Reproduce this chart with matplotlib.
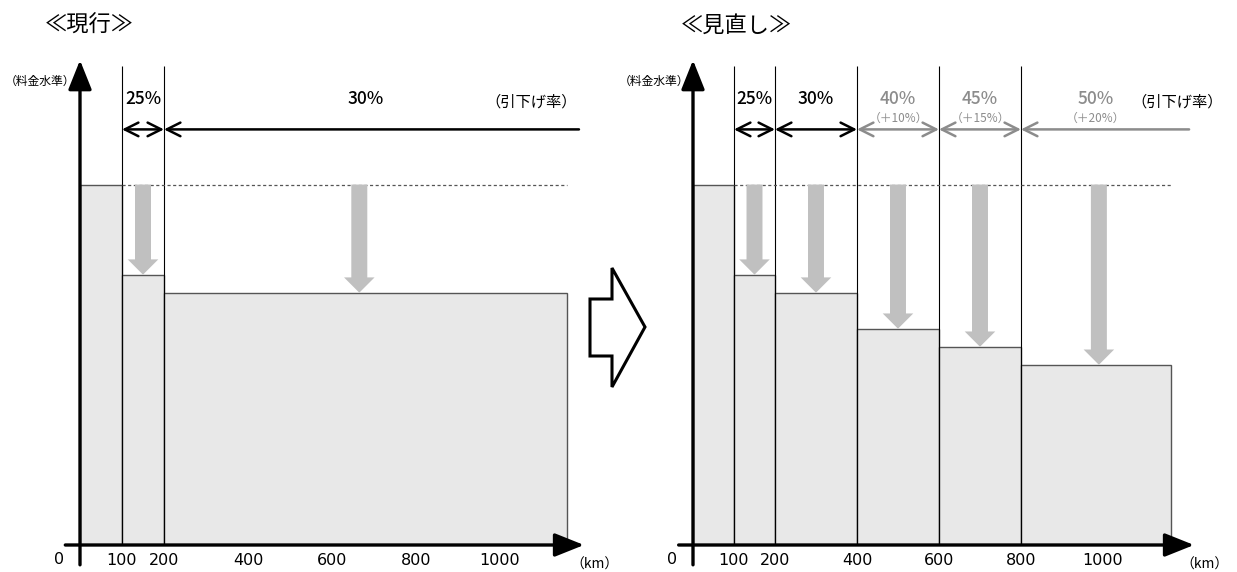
import numpy as np
import matplotlib
matplotlib.use("Agg")
import matplotlib.pyplot as plt
from matplotlib.patches import Polygon

plt.rcParams['font.family'] = ['Noto Sans CJK JP', 'DejaVu Sans']

# ---- data ----
cur_edges = [0, 100, 200, 1160]
cur_rates = [0, 25, 30]
cur_drop_x = [150, 665]

new_edges = [0, 100, 200, 400, 600, 800, 1165]
new_rates = [0, 25, 30, 40, 45, 50]
new_extra = ['', '', '', '（＋10%）', '（＋15%）', '（＋20%）']
new_drop_x = [150, 300, 500, 700, 990]

tick_km = [100, 200, 400, 600, 800, 1000]
base_level = 100

W, H = 1237, 572
fig = plt.figure(figsize=(W / 100, H / 100), dpi=100)

FILL = '#e8e8e8'
EDGE = '#555555'
GRAY = '#8c8c8c'
DROP = '#c0c0c0'


def px_axes(x0, x1, y0, y1):
    # axes placed by pixel box (top-left origin)
    return fig.add_axes([x0 / W, 1 - y1 / H, (x1 - x0) / W, (y1 - y0) / H])


def panel(ax, edges, rates, drop_x, xmax, extra=None, label_x=0):
    ax.set_xlim(0, xmax)
    ax.set_ylim(0, 134)
    ax.axis('off')
    levels = [base_level - r for r in rates]
    widths = np.diff(edges)
    ax.bar(edges[:-1], levels, width=widths, align='edge',
           color=FILL, edgecolor=EDGE, lw=1.0, zorder=2)
    # boundary lines above boxes
    ax.vlines(edges[1:-1], 0, 133, color='black', lw=0.8, zorder=3)
    # dashed reference level
    ax.hlines(base_level, edges[1], edges[-1], color='#555555', lw=0.9,
              linestyles=(0, (2.5, 2)), zorder=3)
    # down arrows
    for i, x in enumerate(drop_x):
        lv = levels[i + 1]
        ax.annotate('', xy=(x, lv), xytext=(x, base_level),
                    arrowprops=dict(arrowstyle='simple,head_width=2.2,head_length=1.1,tail_width=1.15',
                                    mutation_scale=10, color=DROP, lw=0,
                                    shrinkA=0, shrinkB=0), zorder=4)
    # rate arrows and labels
    ya = 115.3
    n = len(rates)
    for i in range(1, n):
        x0, x1 = edges[i], edges[i + 1]
        c = 'black' if rates[i] <= 30 else GRAY
        last = (i == n - 1)
        xe = xmax - 12 if last else x1
        style = '->' if last else '<->'
        ax.annotate('', xy=(x0, ya), xytext=(xe, ya),
                    arrowprops=dict(arrowstyle=style + ',head_width=0.35,head_length=0.7',
                                    mutation_scale=14, color=c, lw=1.8,
                                    shrinkA=0, shrinkB=0), zorder=5)
        sub = extra[i] if extra else ''
        xm = (x0 + x1) / 2
        ax.text(xm, 123.8, f'{rates[i]}%', ha='center', va='center',
                fontsize=12.5, color=c, zorder=6, fontweight='medium')
        if sub:
            ax.text(xm, 118.3, sub, ha='center', va='center', fontsize=8.5, color=GRAY)
    ax.text(label_x, 122.8, '（引下げ率）', ha='center', va='center', fontsize=11)
    # axes arrows
    ax.annotate('', xy=(0, 134.5), xytext=(0, -5.5),
                arrowprops=dict(arrowstyle='-|>,head_width=0.4,head_length=1.0',
                                mutation_scale=18, color='black', lw=2.4,
                                shrinkA=0, shrinkB=0), annotation_clip=False, zorder=7)
    ax.annotate('', xy=(xmax, 0), xytext=(-35, 0),
                arrowprops=dict(arrowstyle='-|>,head_width=0.4,head_length=1.0',
                                mutation_scale=18, color='black', lw=2.4,
                                shrinkA=0, shrinkB=0), annotation_clip=False, zorder=7)
    for t in tick_km:
        ax.text(t, -4.3, str(t), ha='center', va='center', fontsize=11.5,
                family='DejaVu Sans')
    ax.text(-50, -4.0, '0', ha='center', va='center', fontsize=11.5,
            family='DejaVu Sans')
    ax.text(xmax + 25, -5.5, '（km）', ha='center', va='center', fontsize=10)
    ax.text(-95, 128.5, '（料金水準）', ha='center', va='center', fontsize=8.5)


ax1 = px_axes(80, 584, 62, 545)
panel(ax1, cur_edges, cur_rates, cur_drop_x, 1200, label_x=1075)
ax1.text(-0.07, 1.077, '≪現行≫', transform=ax1.transAxes, ha='left', va='center',
         fontsize=16)

ax2 = px_axes(693, 1194, 62, 545)
panel(ax2, new_edges, new_rates, new_drop_x, 1222, extra=new_extra, label_x=1182)
ax2.text(-0.025, 1.077, '≪見直し≫', transform=ax2.transAxes, ha='left', va='center',
         fontsize=16)

# block arrow between the panels
bg = fig.add_axes([0, 0, 1, 1], zorder=-1)
bg.set_xlim(0, W)
bg.set_ylim(H, 0)
bg.axis('off')
shape = [(590, 299), (612, 299), (612, 268), (645, 327), (612, 387),
         (612, 356), (590, 356)]
bg.add_patch(Polygon(shape, closed=True, facecolor='white', edgecolor='black', lw=2.2))

fig.savefig('out.png', dpi=100)
